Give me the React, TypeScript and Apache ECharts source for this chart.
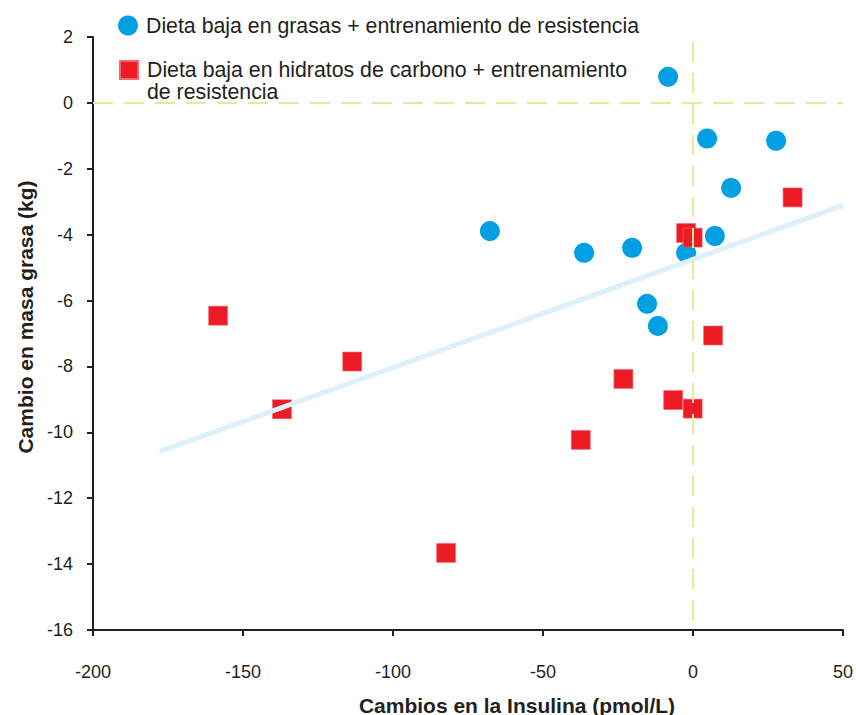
import React, { useEffect, useRef } from "react";
import * as echarts from "echarts";

const S1 = "Dieta baja en grasas + entrenamiento de resistencia";
const S2 = "Dieta baja en hidratos de carbono + entrenamiento\nde resistencia";

const lowFat: [number, number][] = [
  [-8.3, 0.79],
  [4.7, -1.08],
  [27.7, -1.15],
  [12.7, -2.58],
  [-67.7, -3.89],
  [-36.3, -4.55],
  [-20.3, -4.4],
  [7.3, -4.04],
  [-2.3, -4.55],
  [-15.3, -6.1],
  [-11.7, -6.77],
];

const lowCarb: [number, number][] = [
  [33.2, -2.87],
  [-2.3, -3.95],
  [-0.1, -4.09],
  [6.7, -7.06],
  [-23.2, -8.38],
  [-6.6, -9.02],
  [-0.1, -9.28],
  [-37.4, -10.23],
  [-82.3, -13.66],
  [-158.3, -6.46],
  [-113.6, -7.85],
  [-137.0, -9.3],
];

const trend: [number, number][] = [
  [-177.7, -10.58],
  [50, -3.11],
];

const hRef: [number, number][] = [
  [-200, 0],
  [50, 0],
];
const vRef: [number, number][] = [
  [0, 1.85],
  [0, -16],
];

const X_TITLE = "Cambios en la Insulina (pmol/L)";
const Y_TITLE = "Cambio en masa grasa (kg)";

const FONT = "'Liberation Sans', Arial, Helvetica, sans-serif";
const INK = "#231f20";
const REF = "#e6e996";

export default function App() {
  const ref = useRef<HTMLDivElement>(null);
  useEffect(() => {
    if (!ref.current) return;
    const chart = echarts.init(ref.current, undefined, { renderer: "svg" });
    chart.setOption({
      animation: false,
      backgroundColor: "#ffffff",
      textStyle: { fontFamily: FONT },
      grid: { left: 93, right: 13, top: 37, bottom: 85, containLabel: false },
      legend: [
        {
          data: [{ name: S1, icon: "circle" }],
          left: 118,
          top: 15,
          padding: 0,
          itemWidth: 20,
          itemHeight: 20,
          selectedMode: false,
          textStyle: { fontSize: 21.3, color: INK, fontFamily: FONT, padding: [0, 0, 0, 3] },
        },
        {
          data: [{ name: S2, icon: "rect" }],
          formatter: (name: string) => "\n" + name,
          left: 119,
          top: 37,
          padding: 0,
          itemWidth: 18,
          itemHeight: 18,
          selectedMode: false,
          textStyle: {
            fontSize: 21.3,
            lineHeight: 22,
            color: INK,
            fontFamily: FONT,
            padding: [0, 0, 0, 4],
          },
        },
      ],
      xAxis: {
        type: "value",
        min: -200,
        max: 50,
        interval: 50,
        splitLine: { show: false },
        axisLine: { onZero: false, lineStyle: { color: INK, width: 2 } },
        axisTick: { show: true, length: 6, lineStyle: { color: INK, width: 2 } },
        axisLabel: { fontSize: 18, color: INK, margin: 33, fontFamily: FONT },
      },
      yAxis: {
        type: "value",
        min: -16,
        max: 2,
        interval: 2,
        splitLine: { show: false },
        axisLine: { onZero: false, lineStyle: { color: INK, width: 2 } },
        axisTick: { show: true, length: 6, lineStyle: { color: INK, width: 2 } },
        axisLabel: { fontSize: 18, color: INK, margin: 20, fontFamily: FONT },
      },
      series: [
        {
          name: S1,
          type: "scatter",
          data: lowFat,
          symbol: "circle",
          symbolSize: 20,
          itemStyle: { color: "#00a0e2", opacity: 1 },
        },
        {
          name: S2,
          type: "scatter",
          data: lowCarb,
          symbol: "rect",
          symbolSize: 19,
          itemStyle: { color: "#ed1c24", opacity: 1, borderColor: "#f26a70", borderWidth: 0.6 },
        },
        {
          name: "trend",
          type: "line",
          data: trend,
          symbol: "none",
          lineStyle: { color: "#dcf0fa", width: 5 },
          silent: true,
        },
        {
          name: "h0",
          type: "line",
          data: hRef,
          symbol: "none",
          lineStyle: { color: REF, width: 2, type: [20, 11] },
          silent: true,
        },
        {
          name: "v0",
          type: "line",
          data: vRef,
          symbol: "none",
          lineStyle: { color: REF, width: 2, type: [20, 11] },
          silent: true,
        },
      ],
      graphic: [
        {
          type: "text",
          x: 517,
          y: 705,
          style: {
            text: X_TITLE,
            fontSize: 21,
            fontWeight: "bold",
            fontFamily: FONT,
            fill: INK,
            textAlign: "center",
            textVerticalAlign: "middle",
          },
        },
        {
          type: "text",
          x: 25,
          y: 317,
          rotation: Math.PI / 2,
          style: {
            text: Y_TITLE,
            fontSize: 21,
            fontWeight: "bold",
            fontFamily: FONT,
            fill: INK,
            textAlign: "center",
            textVerticalAlign: "middle",
          },
        },
      ],
    });
    return () => chart.dispose();
  }, []);
  return (
    <div
      ref={ref}
      style={{ position: "fixed", left: 0, top: 0, width: 856, height: 715 }}
    />
  );
}
